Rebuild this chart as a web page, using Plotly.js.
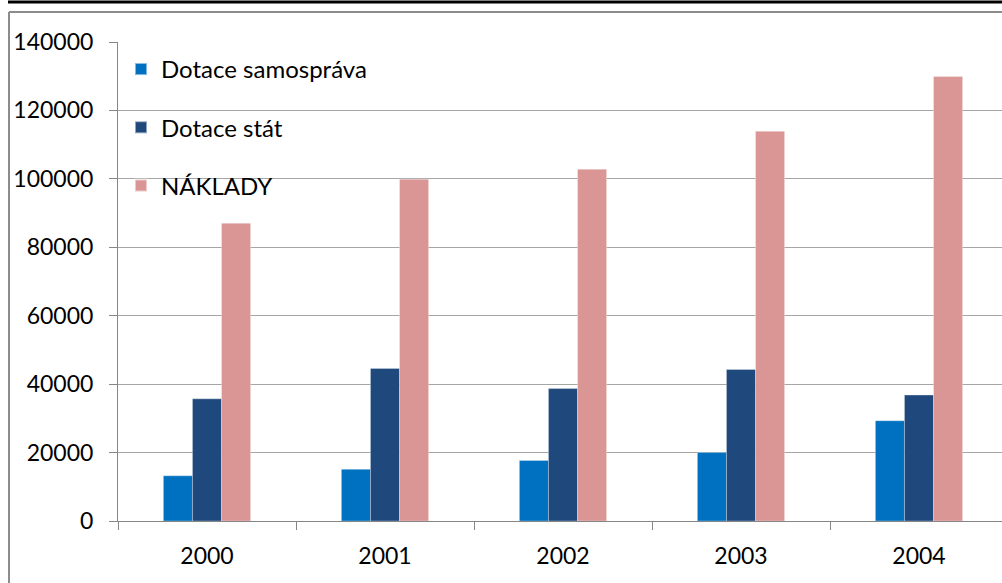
<!DOCTYPE html>
<html>
<head>
<meta charset="utf-8">
<script src="https://cdn.plot.ly/plotly-3.0.1.min.js"></script>
<style>
html,body{margin:0;padding:0;background:#fff;}
#chart{width:1002px;height:583px;}
</style>
</head>
<body>
<div id="chart"></div>
<script>
var years = ['2000', '2001', '2002', '2003', '2004'];
var dotaceSamosprava = [13200, 15100, 17700, 20000, 29300];
var dotaceStat = [35700, 44600, 38700, 44300, 36800];
var naklady = [87000, 99900, 102800, 113900, 129900];
var seriesNames = ['Dotace samospráva', 'Dotace stát', 'NÁKLADY'];
var seriesColors = ['#0070C0', '#1F497D', '#D99694'];
var yTicks = [0, 20000, 40000, 60000, 80000, 100000, 120000, 140000];

var font = 'Lato, "Open Sans", "Liberation Sans", sans-serif';
var seriesValues = [dotaceSamosprava, dotaceStat, naklady];
var traces = seriesValues.map(function (vals, i) {
  return {
    type: 'bar',
    x: years,
    y: vals,
    name: seriesNames[i],
    legendgroup: 'g' + i,
    marker: {color: seriesColors[i], line: {color: 'rgba(255,255,255,0.5)', width: 0.6}},
    hoverinfo: 'x+y+name'
  };
});

// plot area: x 118..1002, y 42..521
var L = 118, R = 1002, T = 42, B = 521;
function px(x) { return (x - L) / (R - L); }
function py(y) { return (B - y) / (B - T); }

var layout = {
  width: 1002,
  height: 583,
  margin: {l: L, r: 0, t: T, b: 583 - B},
  paper_bgcolor: '#ffffff',
  plot_bgcolor: '#ffffff',
  bargap: 0.51,
  bargroupgap: 0,
  barmode: 'group',
  font: {family: font, size: 23, color: '#000000'},
  showlegend: true,
  legend: {
    x: px(121), y: py(47), xanchor: 'left', yanchor: 'top',
    bgcolor: 'rgba(0,0,0,0)',
    font: {family: font, size: 24, color: '#000000'},
    tracegroupgap: 24,
    itemsizing: 'constant'
  },
  xaxis: {
    type: 'category',
    range: [-0.5, -0.5 + (R - L) / 178],
    showgrid: false,
    showline: true,
    linecolor: '#868686',
    linewidth: 1,
    ticks: 'outside',
    tickson: 'boundaries',
    ticklen: 8,
    tickcolor: '#868686',
    tickfont: {family: font, size: 23, color: '#000000'},
    ticklabelstandoff: 14,
    zeroline: false
  },
  yaxis: {
    range: [0, 140000],
    tickvals: yTicks,
    ticktext: yTicks.map(String),
    showgrid: true,
    gridcolor: '#a6a6a6',
    gridwidth: 1,
    showline: true,
    linecolor: '#868686',
    linewidth: 1,
    ticks: 'outside',
    ticklen: 8,
    tickcolor: '#868686',
    tickfont: {family: font, size: 23, color: '#000000'},
    ticklabelstandoff: 11,
    zeroline: false
  },
  shapes: [
    {type: 'line', xref: 'paper', yref: 'paper', x0: px(8), x1: px(1002), y0: py(2), y1: py(2),
     line: {color: '#000000', width: 3}},
    {type: 'line', xref: 'paper', yref: 'paper', x0: px(9), x1: px(1002), y0: py(12), y1: py(12),
     line: {color: '#8c8c8c', width: 2}},
    {type: 'line', xref: 'paper', yref: 'paper', x0: px(9), x1: px(9), y0: py(12), y1: py(583),
     line: {color: '#8c8c8c', width: 2}}
  ]
};

Plotly.newPlot('chart', traces, layout, {displayModeBar: false, staticPlot: true});
</script>
</body>
</html>
